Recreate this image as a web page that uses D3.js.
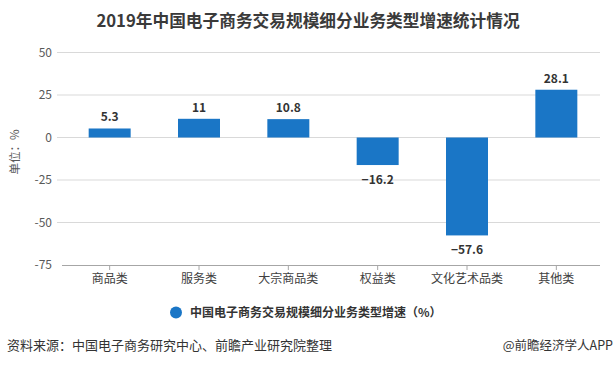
<!DOCTYPE html>
<html><head><meta charset="utf-8">
<script src="https://cdn.jsdelivr.net/npm/d3@7"></script>
<style>
body{margin:0;background:#fff;}
text{font-family:"Noto Sans CJK SC","Microsoft YaHei",sans-serif;}
</style></head>
<body><svg id="c" width="615" height="366"></svg>
<script>
const categories = ["商品类","服务类","大宗商品类","权益类","文化艺术品类","其他类"];
const values = [5.3, 11, 10.8, -16.2, -57.6, 28.1];
const yTicks = [50, 25, 0, -25, -50, -75];
const title = "2019年中国电子商务交易规模细分业务类型增速统计情况";
const seriesName = "中国电子商务交易规模细分业务类型增速（%）";
const source = "资料来源：中国电子商务研究中心、前瞻产业研究院整理";
const credit = "@前瞻经济学人APP";

const svg = d3.select("#c");
const barColor = "#1a76c6";
const x = d3.scaleBand().domain(categories).range([65, 601]).paddingInner(0.53).paddingOuter(0.265);
const y = d3.scaleLinear().domain([-75, 50]).range([265, 52.5]);

// title
svg.append("text").attr("x", 308).attr("y", 27).attr("text-anchor","middle")
  .attr("font-size", 16.7).attr("font-weight","bold").attr("fill","#3a3a3a").text(title);

// gridlines
svg.append("g").selectAll("line").data(yTicks.filter(d => d !== -75)).join("line")
  .attr("x1", 57).attr("x2", 600).attr("y1", d => y(d)).attr("y2", d => y(d))
  .attr("stroke", "#d9d9d9").attr("stroke-width", 1);

// y tick labels
svg.append("g").selectAll("text").data(yTicks).join("text")
  .attr("x", 52).attr("y", d => y(d)).attr("dy","0.35em").attr("text-anchor","end")
  .attr("font-size", 12).attr("fill","#595959").text(d => d);

// x axis
const xAxis = d3.axisBottom(x).tickSize(5).tickSizeOuter(0);
const gx = svg.append("g").attr("transform", `translate(0,${y(-75)})`).call(xAxis);
gx.select(".domain").attr("stroke","#a6a6a6").attr("d", "M62,0.5H600");
gx.selectAll(".tick line").attr("stroke","#a6a6a6");
gx.selectAll(".tick text").attr("font-size", 12).attr("fill","#404040")
  .attr("font-family","\"Noto Sans CJK SC\",sans-serif").attr("y", 9);

// y label
svg.append("text").attr("transform","translate(19,152) rotate(-90)").attr("text-anchor","middle")
  .attr("font-size", 11.5).attr("fill","#595959").text("单位：%");

// bars
svg.append("g").selectAll("rect").data(values).join("rect")
  .attr("x", (d,i) => x(categories[i])).attr("width", x.bandwidth())
  .attr("y", d => y(Math.max(0,d))).attr("height", d => Math.abs(y(d) - y(0)))
  .attr("fill", barColor);

// value labels
svg.append("g").selectAll("text").data(values).join("text")
  .attr("x", (d,i) => x(categories[i]) + x.bandwidth()/2)
  .attr("y", d => d >= 0 ? y(d) - 7 : y(d) + 19)
  .attr("text-anchor","middle").attr("font-size", 12).attr("font-weight","bold")
  .attr("fill","#333").text(d => d < 0 ? "\u2212" + Math.abs(d) : d);

// legend
svg.append("circle").attr("cx", 176).attr("cy", 312.5).attr("r", 6).attr("fill", barColor);
svg.append("text").attr("x", 190).attr("y", 313).attr("dy","0.35em")
  .attr("font-size", 12).attr("font-weight","bold").attr("fill","#333").text(seriesName);

// footer
svg.append("text").attr("x", 7).attr("y", 350).attr("font-size", 13).attr("fill","#333").text(source);
svg.append("text").attr("x", 613).attr("y", 350).attr("text-anchor","end").attr("font-size", 12.5).attr("fill","#333").text(credit);
</script></body></html>
